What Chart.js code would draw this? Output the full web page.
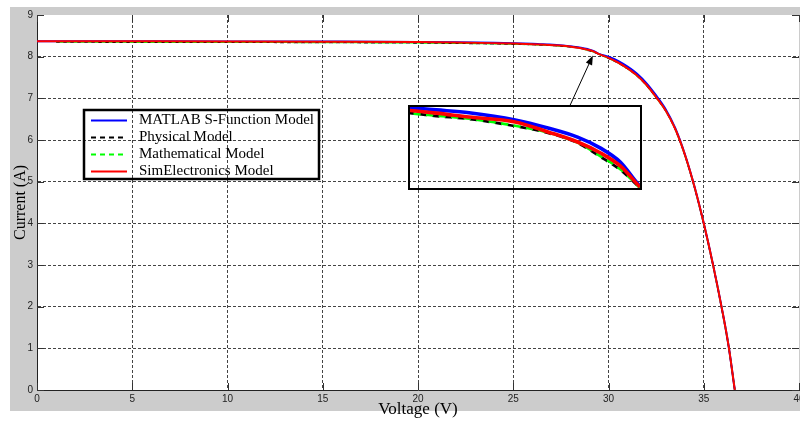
<!DOCTYPE html>
<html>
<head>
<meta charset="utf-8">
<script src="https://cdn.jsdelivr.net/npm/chart.js@4.4.1/dist/chart.umd.min.js"></script>
<style>
  html, body { margin: 0; padding: 0; background: #fff; }
  #wrap { position: relative; width: 800px; height: 421px; overflow: hidden; }
  #inset { position: absolute; border: 2px solid #000; box-sizing: border-box; }
  #inset canvas { display: block; }
</style>
</head>
<body>
<div id="wrap">
  <canvas id="main" width="800" height="421"></canvas>
  <div id="inset"><canvas id="zoom"></canvas></div>
</div>
<script>
// I-V curve of the PV module, four models
const voltage = [0, 1, 5, 10, 15, 20, 22, 24, 25,
  26, 26.4, 26.9, 27.6, 28.1, 28.55, 28.9, 29.2, 29.5,
  30, 30.5, 31, 31.5, 32, 32.5, 33, 33.5, 34, 34.5, 35, 35.5, 36,
  36.3, 36.63];

const matlabCurrent = [8.37, 8.37, 8.368, 8.366, 8.362, 8.354, 8.346, 8.332, 8.322,
  8.308, 8.301, 8.292, 8.27, 8.245, 8.217, 8.183, 8.14, 8.066,
  8.0, 7.9, 7.76, 7.59, 7.36, 7.07, 6.74, 6.29, 5.67, 4.9, 4.0, 2.98, 1.84,
  1.07, 0];

const physicalCurrent = [null, 8.35, 8.348, 8.345, 8.34, 8.33, 8.322, 8.31, 8.30,
  8.291, 8.282, 8.273, 8.251, 8.23, 8.199, 8.156, 8.116, 8.06,
  7.96, 7.85, 7.71, 7.54, 7.31, 7.02, 6.7, 6.26, 5.65, 4.89, 3.99, 2.97, 1.83,
  1.06, 0];

const mathCurrent = [null, 8.35, 8.349, 8.346, 8.341, 8.331, 8.323, 8.311, 8.301,
  8.29, 8.283, 8.274, 8.252, 8.231, 8.2, 8.158, 8.118, 8.06,
  7.96, 7.85, 7.71, 7.54, 7.31, 7.02, 6.7, 6.26, 5.65, 4.89, 3.99, 2.97, 1.83,
  1.06, 0];

const simElecCurrent = [8.37, 8.37, 8.368, 8.365, 8.36, 8.35, 8.34, 8.325, 8.315,
  8.299, 8.291, 8.279, 8.264, 8.233, 8.202, 8.168, 8.128, 8.063,
  7.97, 7.86, 7.72, 7.55, 7.32, 7.03, 6.71, 6.27, 5.66, 4.9, 4.0, 2.98, 1.84,
  1.07, 0];

const seriesNames = ['MATLAB S-Function Model', 'Physical Model', 'Mathematical Model', 'SimElectronics Model'];
const xTicks = [0, 5, 10, 15, 20, 25, 30, 35, 40];
const yTicks = [0, 1, 2, 3, 4, 5, 6, 7, 8, 9];

// zoom window shown in the inset (data units)
const zoomRange = { xMin: 26, xMax: 29.5, yMin: 8.06, yMax: 8.31 };
// where the inset box sits on the main axes (data units)
const insetArea = { v0: 19.45, v1: 31.72, i0: 4.8, i1: 6.83 };
const arrowFrom = { x: 27.98, y: 6.83 };
const arrowTo = { x: 29.18, y: 8.03 };

const tickFont = { family: '"Liberation Sans", Arial, sans-serif', size: 10 };
const serif = '"Liberation Serif", "Times New Roman", serif';

function points(values) {
  return voltage.map((v, i) => ({ x: v, y: values[i] }));
}

function makeDatasets(scale) {
  const styles = [
    { color: '#0000ff', dash: [], width: 2, order: 3, values: matlabCurrent },
    { color: '#000000', dash: [4, 3], width: 1.5, order: 2, values: physicalCurrent },
    { color: '#00ff00', dash: [4, 3], width: 1.5, order: 1, values: mathCurrent, offset: 3.5 },
    { color: '#ff0000', dash: [], width: 2, order: 0, values: simElecCurrent },
  ];
  return styles.map((s, i) => ({
    label: seriesNames[i],
    data: points(s.values),
    borderColor: s.color,
    borderWidth: s.width * scale,
    borderDash: s.dash.map((d) => d * scale),
    borderDashOffset: (s.offset || 0) * scale,
    order: s.order,
    pointRadius: 0,
    fill: false,
    cubicInterpolationMode: 'monotone',
  }));
}

const backgroundPlugin = {
  id: 'bg',
  beforeDraw(chart) {
    const { ctx, chartArea } = chart;
    ctx.save();
    ctx.fillStyle = '#cccccc';
    ctx.fillRect(10, 7, 790, 404);
    ctx.fillStyle = '#ffffff';
    ctx.fillRect(chartArea.left, chartArea.top, chartArea.right - chartArea.left, chartArea.bottom - chartArea.top);
    ctx.restore();
  },
};

// MATLAB style ticks pointing inward on all four sides
const innerTicksPlugin = {
  id: 'innerTicks',
  beforeDatasetsDraw(chart) {
    const { ctx, chartArea, scales } = chart;
    const len = 7;
    ctx.save();
    ctx.strokeStyle = '#333';
    ctx.lineWidth = 1;
    ctx.beginPath();
    xTicks.forEach((v) => {
      const px = Math.round(scales.x.getPixelForValue(v)) + 0.5;
      ctx.moveTo(px, chartArea.bottom);
      ctx.lineTo(px, chartArea.bottom - len);
      ctx.moveTo(px, chartArea.top);
      ctx.lineTo(px, chartArea.top + len);
    });
    yTicks.forEach((v) => {
      const py = Math.round(scales.y.getPixelForValue(v)) + 0.5;
      ctx.moveTo(chartArea.left, py);
      ctx.lineTo(chartArea.left + len, py);
      ctx.moveTo(chartArea.right, py);
      ctx.lineTo(chartArea.right - len, py);
    });
    ctx.stroke();
    ctx.restore();
  },
};

const legendBoxPlugin = {
  id: 'legendBox',
  afterDatasetsDraw(chart) {
    const { ctx } = chart;
    const box = { left: 84, top: 110, width: 235, height: 69 };
    const rows = [120.5, 137.5, 154.5, 171.5];
    ctx.save();
    ctx.lineWidth = 2.5;
    ctx.strokeStyle = '#000';
    ctx.strokeRect(box.left, box.top, box.width, box.height);
    ctx.font = '15px ' + serif;
    ctx.textBaseline = 'middle';
    chart.data.datasets.forEach((ds, i) => {
      const y = rows[i];
      ctx.beginPath();
      ctx.strokeStyle = ds.borderColor;
      ctx.lineWidth = 2;
      ctx.setLineDash(ds.borderDash.length ? [5, 4] : []);
      ctx.moveTo(91, y);
      ctx.lineTo(127, y);
      ctx.stroke();
      ctx.setLineDash([]);
      ctx.fillStyle = '#000';
      ctx.fillText(ds.label, 139, y);
    });
    ctx.restore();
  },
};

const arrowPlugin = {
  id: 'arrow',
  afterDatasetsDraw(chart) {
    const { ctx, scales } = chart;
    const x0 = scales.x.getPixelForValue(arrowFrom.x);
    const y0 = scales.y.getPixelForValue(arrowFrom.y);
    const x1 = scales.x.getPixelForValue(arrowTo.x);
    const y1 = scales.y.getPixelForValue(arrowTo.y);
    const ang = Math.atan2(y1 - y0, x1 - x0);
    const head = 10;
    ctx.save();
    ctx.strokeStyle = '#000';
    ctx.fillStyle = '#000';
    ctx.lineWidth = 1;
    ctx.beginPath();
    ctx.moveTo(x0, y0);
    ctx.lineTo(x1 - Math.cos(ang) * head * 0.8, y1 - Math.sin(ang) * head * 0.8);
    ctx.stroke();
    ctx.beginPath();
    ctx.moveTo(x1, y1);
    ctx.lineTo(x1 - head * Math.cos(ang - 0.35), y1 - head * Math.sin(ang - 0.35));
    ctx.lineTo(x1 - head * Math.cos(ang + 0.35), y1 - head * Math.sin(ang + 0.35));
    ctx.closePath();
    ctx.fill();
    ctx.restore();
  },
};

const gridColor = (hidden) => (ctx) => (ctx.tick && hidden.includes(ctx.tick.value) ? 'rgba(0,0,0,0)' : '#444');

const mainChart = new Chart(document.getElementById('main'), {
  type: 'line',
  data: { datasets: makeDatasets(1) },
  options: {
    responsive: false,
    animation: false,
    layout: { padding: { left: 11, top: 15, right: 1, bottom: 0 } },
    plugins: { legend: { display: false }, tooltip: { enabled: false } },
    scales: {
      x: {
        type: 'linear',
        min: 0,
        max: 40,
        afterBuildTicks: (s) => { s.ticks = xTicks.map((v) => ({ value: v })); },
        afterFit: (s) => { s.height = 31; s.paddingLeft = 0; s.paddingRight = 0; },
        ticks: { font: tickFont, color: '#222', padding: 3, maxRotation: 0 },
        grid: { color: gridColor([0, 40]), lineWidth: 1, drawTicks: false },
        border: { display: true, color: '#222', width: 1, dash: [3, 2] },
        title: { display: true, text: 'Voltage (V)', color: '#000', font: { family: serif, size: 17 }, padding: { top: 0, bottom: 1 } },
      },
      y: {
        type: 'linear',
        min: 0,
        max: 9,
        afterBuildTicks: (s) => { s.ticks = yTicks.map((v) => ({ value: v })); },
        afterFit: (s) => { s.width = 26; s.paddingTop = 0; s.paddingBottom = 0; },
        ticks: { font: tickFont, color: '#222', padding: 4 },
        grid: { color: gridColor([0, 9]), lineWidth: 1, drawTicks: false },
        border: { display: true, color: '#222', width: 1, dash: [3, 2] },
        title: { display: true, text: 'Current (A)', color: '#000', font: { family: serif, size: 16 }, padding: 0 },
      },
    },
  },
  plugins: [backgroundPlugin, innerTicksPlugin, legendBoxPlugin, arrowPlugin],
});

// place the zoom box over the main axes and draw the same curves magnified
const insetDiv = document.getElementById('inset');
const boxLeft = mainChart.scales.x.getPixelForValue(insetArea.v0);
const boxRight = mainChart.scales.x.getPixelForValue(insetArea.v1);
const boxTop = mainChart.scales.y.getPixelForValue(insetArea.i1);
const boxBottom = mainChart.scales.y.getPixelForValue(insetArea.i0);
insetDiv.style.left = Math.round(boxLeft) + 'px';
insetDiv.style.top = Math.round(boxTop) + 'px';
insetDiv.style.width = Math.round(boxRight - boxLeft) + 'px';
insetDiv.style.height = Math.round(boxBottom - boxTop) + 'px';
const zoomCanvas = document.getElementById('zoom');
zoomCanvas.width = Math.round(boxRight - boxLeft) - 4;
zoomCanvas.height = Math.round(boxBottom - boxTop) - 4;

new Chart(zoomCanvas, {
  type: 'line',
  data: { datasets: makeDatasets(1.8) },
  options: {
    responsive: false,
    animation: false,
    layout: { padding: 0 },
    plugins: { legend: { display: false }, tooltip: { enabled: false } },
    scales: {
      x: { type: 'linear', min: zoomRange.xMin, max: zoomRange.xMax, display: false },
      y: { type: 'linear', min: zoomRange.yMin, max: zoomRange.yMax, display: false },
    },
  },
});
</script>
</body>
</html>
